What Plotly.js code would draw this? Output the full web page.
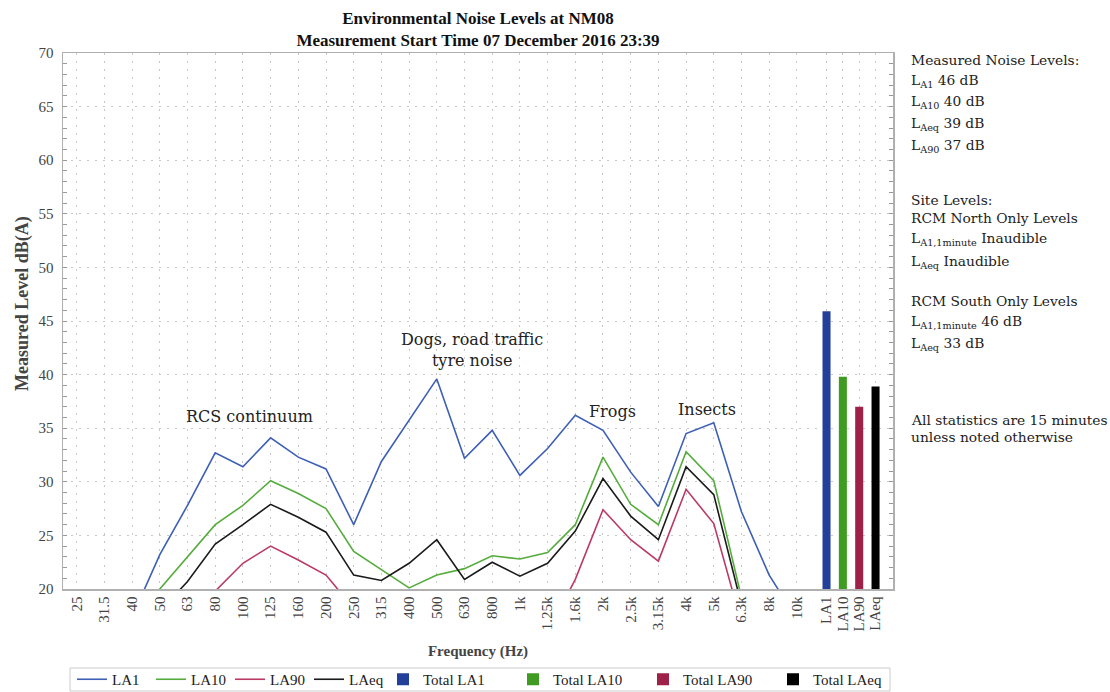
<!DOCTYPE html>
<html>
<head>
<meta charset="utf-8">
<script src="https://cdn.plot.ly/plotly-3.0.1.min.js"></script>
<style>
  html, body { margin: 0; padding: 0; background: #fff; }
  #chart { width: 1110px; height: 692px; }
</style>
</head>
<body>
<div id="chart"></div>
<script>
// ---- Data ----
const freqLabels = ['25','31.5','40','50','63','80','100','125','160','200','250','315','400','500','630','800','1k','1.25k','1.6k','2k','2.5k','3.15k','4k','5k','6.3k','8k','10k'];
const LA1  = [13.5, 15.5, 17.4, 23.2, 27.8, 32.7, 31.4, 34.1, 32.3, 31.2, 26.0, 31.9, 35.8, 39.6, 32.2, 34.8, 30.6, 33.1, 36.2, 34.8, 30.9, 27.7, 34.5, 35.5, 27.2, 21.3, 17.2];
const LA10 = [12.5, 14.5, 17.0, 20.0, 22.9, 26.0, 27.8, 30.1, 28.9, 27.5, 23.5, 21.8, 20.1, 21.3, 21.9, 23.1, 22.8, 23.4, 26.0, 32.3, 27.9, 26.0, 32.8, 30.1, 19.2, 15.0, 13.5];
const LA90 = [10.0, 11.5, 13.0, 15.0, 17.0, 19.8, 22.4, 24.0, 22.7, 21.3, 18.2, 17.0, 16.0, 17.5, 16.0, 16.5, 16.0, 15.9, 20.9, 27.4, 24.6, 22.6, 29.3, 26.1, 16.8, 12.0, 11.0];
const LAeq = [12.0, 14.0, 16.0, 17.9, 20.7, 24.2, 26.0, 27.9, 26.7, 25.3, 21.3, 20.8, 22.4, 24.6, 20.9, 22.5, 21.2, 22.4, 25.4, 30.3, 26.8, 24.6, 31.4, 28.8, 18.5, 14.5, 13.0];
const totalLabels = ['LA1', 'LA10', 'LA90', 'LAeq'];
const totalValues = [45.9, 39.8, 37.0, 38.9];
const southLA1 = 46, southLAeq = 33;

// ---- Styling ----
const lineColors = {LA1: '#3d5fb5', LA10: '#55ac3c', LA90: '#bb3a64', LAeq: '#1a1a1a'};
const barColors  = ['#22409a', '#3f9b22', '#9e2149', '#000000'];
const tickFont = {family: 'Liberation Serif, serif', size: 15, color: '#444'};
const textFont = {family: 'DejaVu Serif, serif', size: 13.8, color: '#222'};
const legendFont = {family: 'Liberation Serif, serif', size: 15, color: '#222'};
const gridDash = '2px,6px';

const freqX = freqLabels.map((_, i) => i);
const barX = totalLabels.map((_, k) => 27.07 + k * 0.59);

const series = {LA1, LA10, LA90, LAeq};
const traces = [];
Object.keys(series).forEach(name => {
  traces.push({
    type: 'scatter', mode: 'lines', name: name,
    x: freqX, y: series[name],
    line: {color: lineColors[name], width: 1.6},
    legend: 'legend'
  });
});
totalLabels.forEach((lab, k) => {
  traces.push({
    type: 'bar', name: 'Total ' + lab,
    x: [barX[k]], y: [totalValues[k]],
    width: 0.29,
    marker: {color: barColors[k], line: {width: 0}},
    legend: 'legend2'
  });
});

// plot area pixel geometry helpers for text placement
const W = 1110, H = 692;
const plotLeft = 63, plotRight = 893, plotTop = 53, plotBottom = 589;
const py2paper = py => (plotBottom - py) / (plotBottom - plotTop);
const px2paper = px => (px - plotLeft) / (plotRight - plotLeft);

const sideLines = [
  ['Measured Noise Levels:', 60],
  ['L<sub>A1</sub> ' + Math.round(totalValues[0]) + ' dB', 81],
  ['L<sub>A10</sub> ' + Math.round(totalValues[1]) + ' dB', 102],
  ['L<sub>Aeq</sub> ' + Math.round(totalValues[3]) + ' dB', 124],
  ['L<sub>A90</sub> ' + Math.round(totalValues[2]) + ' dB', 146],
  ['Site Levels:', 200],
  ['RCM North Only Levels', 218],
  ['L<sub>A1,1minute</sub> Inaudible', 239],
  ['L<sub>Aeq</sub> Inaudible', 262],
  ['RCM South Only Levels', 301],
  ['L<sub>A1,1minute</sub> ' + southLA1 + ' dB', 322],
  ['L<sub>Aeq</sub> ' + southLAeq + ' dB', 344],
  ['All statistics are 15 minutes', 420],
  ['unless noted otherwise', 437]
];

const annotations = sideLines.map(([t, py]) => ({
  text: t, xref: 'paper', yref: 'paper', x: px2paper(909), y: py2paper(py),
  xanchor: 'left', yanchor: 'middle', showarrow: false, font: textFont, align: 'left'
}));

const noteFont = {family: 'DejaVu Serif, serif', size: 16, color: '#222'};
[
  ['RCS continuum', 6.22, 36.05],
  ['Dogs, road traffic<br>tyre noise', 14.27, 42.3],
  ['Frogs', 19.36, 36.6],
  ['Insects', 22.76, 36.7]
].forEach(([t, x, y]) => annotations.push({
  text: t, x: x, y: y, xref: 'x', yref: 'y', showarrow: false, font: noteFont, align: 'center'
}));

// y-axis title (placed as rotated text to match its offset position)
annotations.push({
  text: '<b>Measured Level dB(A)</b>', xref: 'paper', yref: 'paper',
  x: px2paper(22), y: py2paper(304), xanchor: 'center', yanchor: 'middle',
  textangle: -90, showarrow: false,
  font: {family: 'Liberation Serif, serif', size: 18, color: '#444'}
});

const layout = {
  width: W, height: H,
  paper_bgcolor: '#fff', plot_bgcolor: '#fff',
  margin: {l: plotLeft, r: W - plotRight, t: plotTop, b: H - plotBottom, pad: 0, autoexpand: false},
  title: {
    text: '<b>Environmental Noise Levels at NM08</b><br><b>Measurement Start Time 07 December 2016 23:39</b>',
    x: 0.5, xref: 'paper', xanchor: 'center',
    y: 1 - 24 / H, yref: 'container', yanchor: 'top',
    font: {family: 'Liberation Serif, serif', size: 17, color: '#111'},
    automargin: false
  },
  showlegend: true,
  legend: {
    orientation: 'h', xref: 'container', yref: 'container',
    x: 72 / W, xanchor: 'left', y: 1 - 663 / H, yanchor: 'top',
    borderwidth: 0, bgcolor: 'rgba(0,0,0,0)',
    font: legendFont, entrywidth: 34, entrywidthmode: 'pixels'
  },
  legend2: {
    orientation: 'h', xref: 'container', yref: 'container',
    x: 383 / W, xanchor: 'left', y: 1 - 663 / H, yanchor: 'top',
    borderwidth: 0, bgcolor: 'rgba(0,0,0,0)',
    font: legendFont, entrywidth: 85, entrywidthmode: 'pixels'
  },
  shapes: [{
    type: 'rect', xref: 'paper', yref: 'paper',
    x0: px2paper(70), x1: px2paper(890), y0: py2paper(668), y1: py2paper(691),
    line: {color: '#cccccc', width: 1}, fillcolor: 'rgba(0,0,0,0)', layer: 'above'
  }],
  barmode: 'overlay',
  xaxis: {
    range: [-0.495, 29.47],
    automargin: false,
    tickmode: 'array',
    tickvals: freqX.concat(barX),
    ticktext: freqLabels.concat(totalLabels),
    tickangle: -90,
    tickfont: tickFont,
    ticks: '',
    showgrid: true, gridcolor: '#c8c8c8', griddash: gridDash, gridwidth: 1,
    showline: true, linecolor: '#b0b0b0', linewidth: 1.5, mirror: true,
    zeroline: false,
    title: {text: '<b>Frequency (Hz)</b>', font: {family: 'Liberation Serif, serif', size: 15, color: '#444'}, standoff: 15}
  },
  yaxis: {
    range: [20, 70],
    automargin: false,
    tick0: 20, dtick: 5,
    tickfont: tickFont,
    ticks: 'inside', ticklen: 4, tickcolor: '#999', tickwidth: 1,
    ticklabelstandoff: 5,
    minor: {dtick: 1, ticks: 'inside', ticklen: 4, tickcolor: '#999', showgrid: false},
    showgrid: true, gridcolor: '#c8c8c8', griddash: gridDash, gridwidth: 1,
    showline: true, linecolor: '#b0b0b0', linewidth: 1.5, mirror: 'ticks',
    zeroline: false
  },
  annotations: annotations
};

Plotly.newPlot('chart', traces, layout, {displayModeBar: false, staticPlot: true});
</script>
</body>
</html>
